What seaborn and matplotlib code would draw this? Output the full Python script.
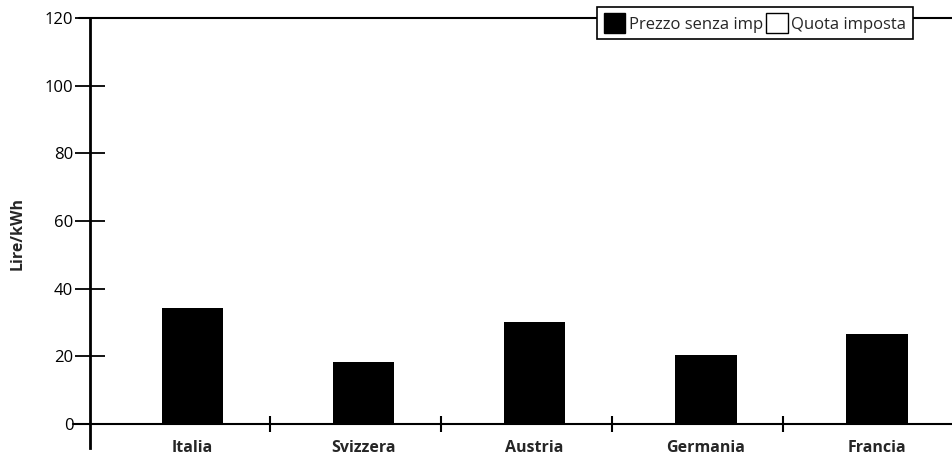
import matplotlib
matplotlib.use("Agg")
import matplotlib.pyplot as plt
import seaborn as sns
import pandas as pd
from matplotlib.patches import Patch

categories = ["Italia", "Svizzera", "Austria", "Germania", "Francia"]
prezzo_senza_imp = [34.4, 18.4, 30.1, 20.4, 26.6]
quota_imposta = [0, 0, 0, 0, 0]
y_ticks = [0, 20, 40, 60, 80, 100, 120]
y_label = "Lire/kWh"
legend_labels = ["Prezzo senza imp", "Quota imposta"]

sns.set_theme(style="white")
plt.rcParams['font.family'] = ['Open Sans', 'DejaVu Sans']

df = pd.DataFrame({"Paese": categories, "Prezzo": prezzo_senza_imp, "Quota": quota_imposta})

fig = plt.figure(figsize=(9.52, 4.59), dpi=100)
ax = fig.add_axes([90 / 952, (459 - 448) / 459, 1 - 90 / 952, (448 - 18) / 459])

sns.barplot(data=df, x="Paese", y="Prezzo", color="black", width=0.36,
            edgecolor="black", linewidth=0, ax=ax, saturation=1)
ax.bar(range(len(categories)), df["Quota"], bottom=df["Prezzo"], width=0.36,
       color="white", edgecolor="black", linewidth=0)

ax.set_xlim(-0.6, 4.44)
ax.set_ylim(-7.1, 120)
ax.set_yticks(y_ticks)
ax.set_yticklabels([str(t) for t in y_ticks], fontsize=12)
ax.tick_params(axis="y", direction="inout", length=22, width=1.3, pad=1, left=True, colors="black")
ax.tick_params(axis="x", length=0, pad=-6)
for lbl in ax.get_xticklabels():
    lbl.set_fontweight("bold")
    lbl.set_fontsize(11.5)
ax.set_xlabel("")
ax.set_ylabel(y_label, fontsize=11.5, fontweight="bold", labelpad=14)

for s in ["top", "right", "bottom"]:
    ax.spines[s].set_visible(False)
ax.spines["left"].set_linewidth(2)
ax.spines["left"].set_color("black")

ax.axhline(0, xmin=-0.02, xmax=1, color="black", lw=1.5, clip_on=False)
ax.axhline(120, xmin=-0.013, xmax=1, color="black", lw=1.5, clip_on=False)
ax.vlines([i + 0.45 for i in range(len(categories) - 1)], -2.5, 2.5, color="black", lw=1.5)

handles = [Patch(facecolor="black", edgecolor="black"),
           Patch(facecolor="white", edgecolor="black")]
leg = ax.legend(handles, legend_labels, ncol=2, loc="center",
                bbox_to_anchor=((755 - 90) / 862, (448 - 23) / 430),
                frameon=True, fancybox=False, fontsize=12, handlelength=1.3, handleheight=1.4,
                handletextpad=0.2, columnspacing=0.2, borderpad=0.4, framealpha=1)
leg.get_frame().set_edgecolor("black")
leg.get_frame().set_linewidth(1.2)

fig.savefig("out.png", dpi=100)
